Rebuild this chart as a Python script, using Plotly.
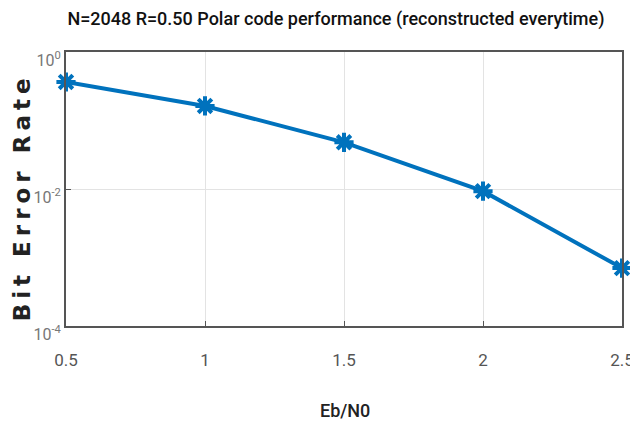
import plotly.graph_objects as go

ebn0 = [0.5, 1.0, 1.5, 2.0, 2.5]
ber = [0.365, 0.163, 0.048, 0.0093, 0.0007]
x_ticks = [0.5, 1, 1.5, 2, 2.5]
x_tick_labels = ["0.5", "1", "1.5", "2", "2.5"]
y_ticks = [1e-4, 1e-2, 1e0]
y_tick_labels = ["10<sup>-4</sup>", "10<sup>-2</sup>", "10<sup>0</sup>"]

title_text = "N=2048 R=0.50 Polar code performance (reconstructed everytime)"
y_title = "Bit Error Rate"
x_title = "Eb/N0"
narrow = "Roboto, Liberation Sans, sans-serif"

fig = go.Figure()
fig.add_trace(go.Scatter(
    x=ebn0, y=ber, mode="lines+markers", cliponaxis=False,
    line=dict(color="#0072BD", width=4),
    marker=dict(symbol="asterisk-open", size=16,
                line=dict(color="#0072BD", width=4)),
))

fig.update_layout(
    width=638, height=430,
    margin=dict(l=58, r=24, t=44, b=112),
    paper_bgcolor="white", plot_bgcolor="white",
    showlegend=False,
    title=dict(text=title_text, x=0.514, xanchor="center", y=0.975, yanchor="middle",
               font=dict(family=narrow, size=18, color="#111111", weight=500)),
    xaxis=dict(
        range=[0.5, 2.5], tickmode="array", tickvals=x_ticks, ticktext=x_tick_labels,
        showgrid=True, gridcolor="#e3e3e3", gridwidth=1,
        showline=True, linecolor="#555555", linewidth=2, mirror=True,
        ticks="inside", ticklen=5, tickcolor="#555555",
        tickfont=dict(family=narrow, size=17, color="#555555"),
        ticklabelstandoff=18,
        automargin=False,
        zeroline=False,
    ),
    yaxis=dict(
        type="log", range=[-4, 0], tickmode="array", tickvals=y_ticks, ticktext=y_tick_labels,
        showgrid=True, gridcolor="#e3e3e3", gridwidth=1,
        showline=True, linecolor="#555555", linewidth=2, mirror=True,
        ticks="inside", ticklen=5, tickcolor="#555555",
        tickfont=dict(family=narrow, size=16, color="#777777"),
        ticklabelshift=8,
        automargin=False,
        zeroline=False,
    ),
    annotations=[
        dict(text="<b>" + y_title + "</b>", xref="paper", yref="paper",
             x=-0.079, y=0.47, xanchor="center", yanchor="middle", textangle=-90,
             showarrow=False,
             font=dict(family="DejaVu Sans, sans-serif", size=23, color="#222222")),
        dict(text=x_title, xref="paper", yref="paper",
             x=0.502, y=-0.307, xanchor="center", yanchor="middle",
             showarrow=False,
             font=dict(family=narrow, size=18, color="#222222", weight=500)),
    ],
)

post = """
document.documentElement.style.overflow = 'hidden';
document.body.style.overflow = 'hidden';
var gd = document.getElementById('{plot_id}');
function spaceYTitle() {
  var els = gd.querySelectorAll('.annotation-text');
  els.forEach(function(el) {
    if (el.textContent.indexOf('Bit Error Rate') >= 0) {
      el.style.letterSpacing = '5px';
    }
  });
}
spaceYTitle();
gd.on && gd.on('plotly_afterplot', spaceYTitle);
"""

fig.write_html("out.html", post_script=post)
